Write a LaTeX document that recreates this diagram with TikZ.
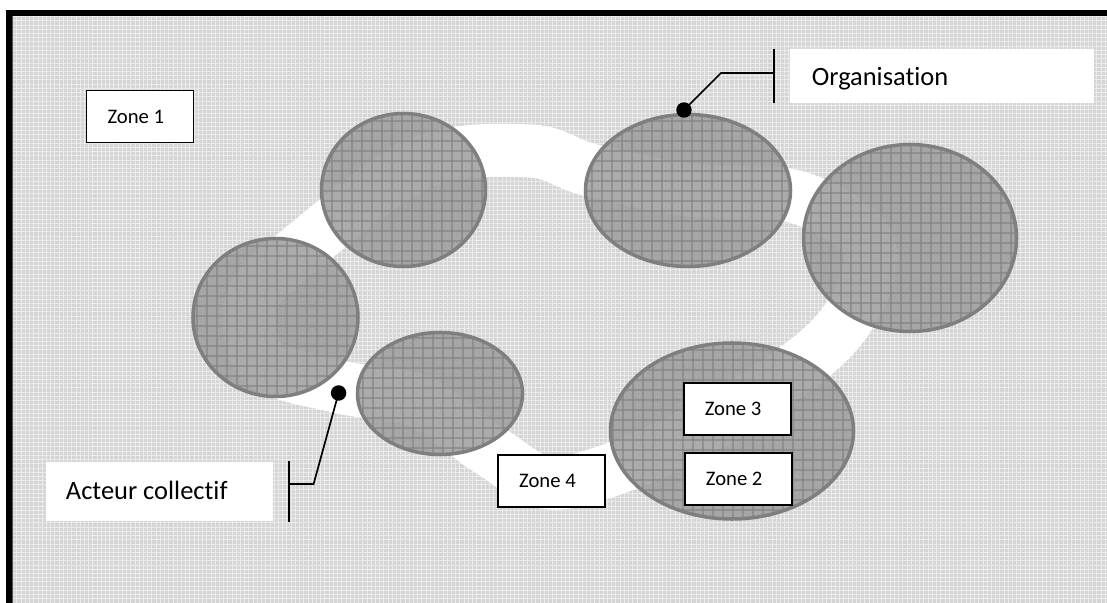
\documentclass[tikz,border=0pt]{standalone}
\usepackage{fontspec}
\setmainfont{Carlito}[Ligatures={NoCommon,NoRare}]
\usetikzlibrary{patterns.meta}

\definecolor{paper}{HTML}{D5D5D5}
\definecolor{paperline}{HTML}{EBEBEB}
\definecolor{blobfill}{HTML}{9E9E9E}
\definecolor{blobgrid}{HTML}{848484}
\definecolor{blobedge}{HTML}{7F7F7F}

\tikzset{
  blob/.style={preaction={fill=blobfill, fill opacity=0.86},
    pattern={Hatch[distance=7.4pt, line width=0.9pt]}, pattern color=blobgrid,
    draw=blobedge, line width=2.5pt},
  zonebox/.style={draw=black, line width=1.2pt, fill=white,
    font=\fontsize{14.7}{17}\selectfont,
    inner xsep=14.9pt, inner ysep=0pt, text width=46.2pt,
    minimum height=37pt, align=flush left},
  tagbox/.style={fill=white, font=\fontsize{18.8}{22}\selectfont,
    inner ysep=0pt, align=flush left},
  pin/.style={circle, fill=black, inner sep=0pt, minimum size=11pt},
  leader/.style={draw=black, line width=1.2pt},
  tbar/.style={draw=black, line width=1.4pt},
  ribbon/.style={draw=white, line width=37.7pt, line join=round},
}

\begin{document}
\begin{tikzpicture}[x=0.025cm, y=-0.025cm]
\useasboundingbox (0,0) rectangle (1107,603);

\begin{scope}
  \clip (0,0) rectangle (1107,603);
  % thick frame on the top and left, textured paper inside
  \fill[black] (6,10) rectangle (1120,620);
  \fill[paper] (12.5,16.5) rectangle (1120,620);
  \fill[pattern={Hatch[distance=3pt, line width=0.6pt]}, pattern color=paperline]
    (12.5,16.5) rectangle (1120,620);
  % white ribbon looping through the six groups
  \draw[ribbon] plot[smooth cycle, tension=0.55] coordinates {
    (300,250) (420,163) (530,151) (590,170) (690,190) (800,198)
    (870,250) (830,340) (690,435) (560,483) (492,452) (420,402)
    (340,387) (262,362) (252,300)};
\end{scope}

% the six groups
\path[blob] (403.5,190) ellipse [x radius=82, y radius=76.5];
\path[blob] (275.5,317.5) ellipse [x radius=82.5, y radius=79];
\path[blob] (440,393.5) ellipse [x radius=82.5, y radius=61];
\path[blob] (688,190.5) ellipse [x radius=102.5, y radius=76];
\path[blob] (910,238) ellipse [x radius=106.5, y radius=93.5];
\path[blob] (732,431) ellipse [x radius=121.5, y radius=88];

% zone labels
\node[zonebox] (z1) at (140,116.5) {Zone 1};
\node[zonebox] (z3) at (737.3,409) {Zone 3};
\node[zonebox] (z2) at (738.4,479) {Zone 2};
\node[zonebox] (z4) at (551.7,481.2) {Zone 4};

% callout labels
\node[tagbox, inner xsep=15.6pt, text width=184.8pt,
      text height=25.8pt, text depth=12.6pt] (org) at (941.8,76) {Organisation};
\node[tagbox, inner xsep=14.2pt, text width=132.7pt,
      text height=27.2pt, text depth=15.2pt] (act) at (159.25,491.5) {Acteur collectif};

% callout pins and leaders
\node[pin] (orgpin) at (684,110) {};
\coordinate (orgbend) at (721,73);
\coordinate (orgbar) at (774,73);
\draw[tbar] (orgbar|-org.north) -- (orgbar|-org.south);
\draw[leader] (orgpin.center) -- (orgbend) -- (orgbar);

\node[pin] (actpin) at (338.6,393) {};
\coordinate (actbend) at (313.6,484);
\coordinate (actbar) at (288.6,484);
\draw[tbar] (actbar|-act.north) -- (actbar|-act.south);
\draw[leader] (actpin.center) -- (actbend) -- (actbar);
\end{tikzpicture}
\end{document}
